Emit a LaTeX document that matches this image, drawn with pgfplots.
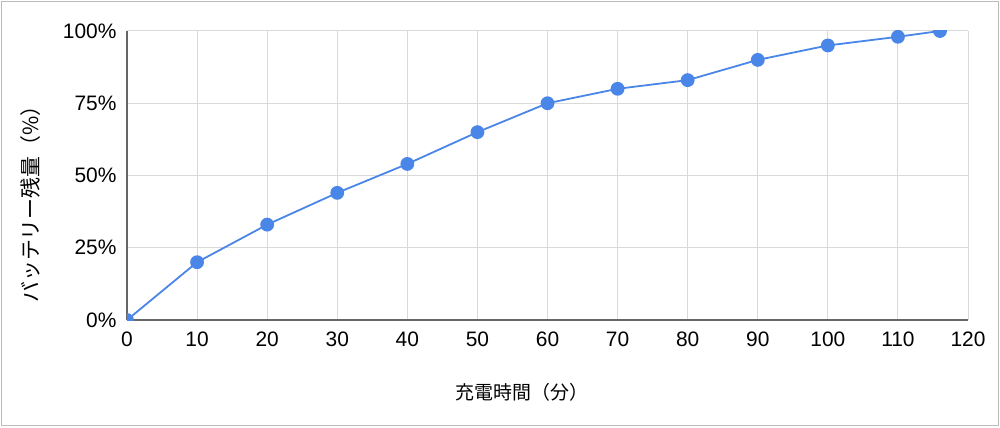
\documentclass[border=0pt]{standalone}
\usepackage{pgfplots}
\pgfplotsset{compat=1.18}
\usepackage{fontspec}
\setmainfont{Liberation Sans}
\newfontfamily\cjk{Noto Sans CJK JP}
\definecolor{gblue}{HTML}{4A86E8}
\definecolor{gridgray}{HTML}{D9D9D9}
\definecolor{axisgray}{HTML}{666666}
\definecolor{framegray}{HTML}{BBBBBB}
\begin{document}
\begin{tikzpicture}[x=1bp,y=1bp]
\useasboundingbox (0,0) rectangle (1000,427);
\fill[white] (0,0) rectangle (1000,427);
\draw[framegray, line width=1.5bp] (1.5,1.5) rectangle (998.5,425.5);
\begin{axis}[
  at={(127bp,107bp)}, anchor=south west,
  scale only axis, width=841bp, height=289bp,
  xmin=0, xmax=120, ymin=0, ymax=100,
  xtick={0,10,...,120}, ytick={0,25,50,75,100},
  yticklabel={\pgfmathprintnumber{\tick}\%},
  /pgf/number format/assume math mode=true,
  tick label style={font=\fontsize{21}{24}\selectfont, text=black},
  xticklabel style={yshift=-8bp},
  yticklabel style={xshift=-7bp},
  grid=major, major grid style={gridgray, line width=1bp},
  axis x line*=bottom, axis y line*=left,
  x axis line style={axisgray, line width=1.2bp, -},
  y axis line style={axisgray, line width=1.2bp, -},
  tick style={draw=none},
  clip=true, clip marker paths=true,
]
\addplot[gblue, line width=1.8bp, mark=*, mark size=6bp, mark options={fill=gblue, draw=gblue}]
  coordinates {(0,0)(10,20)(20,33)(30,44)(40,54)(50,65)(60,75)(70,80)(80,83)(90,90)(100,95)(110,98)(116,100)};
\end{axis}
\node[font=\cjk\fontsize{19}{22}\selectfont] at (522,35) {充電時間（分）};
\node[font=\cjk\fontsize{21}{24}\selectfont, rotate=90] at (31,228) {バッテリー残量（\%）};
\end{tikzpicture}
\end{document}
